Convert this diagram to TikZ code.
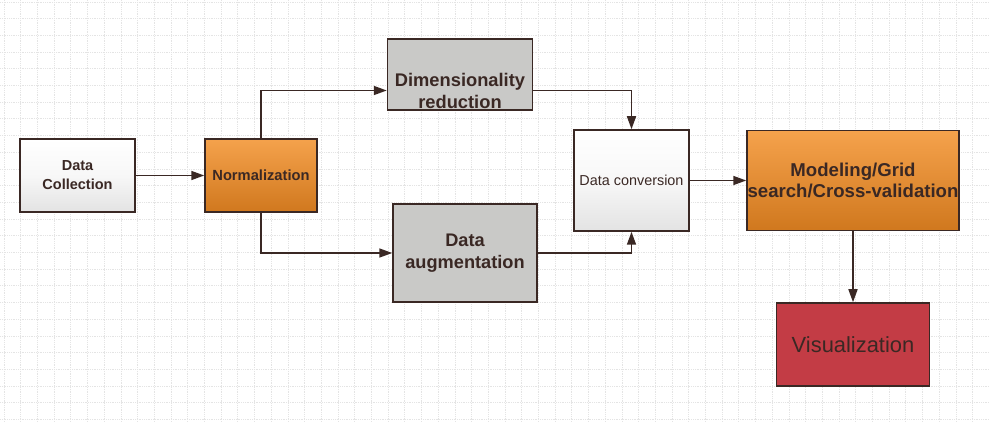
\documentclass[tikz,border=0pt]{standalone}
\usepackage{fontspec}
\setmainfont{Liberation Sans}
\usetikzlibrary{arrows.meta}

\definecolor{inkbrown}{HTML}{3A2824}
\definecolor{boxgray}{HTML}{C9C9C7}
\definecolor{orangetop}{HTML}{F5A24C}
\definecolor{orangebot}{HTML}{D0781E}
\definecolor{vispink}{HTML}{C33C45}
\definecolor{gridgray}{HTML}{E4E4E4}

\begin{document}
\begin{tikzpicture}[x=1pt,y=-1pt,
		gridline/.style={draw=gridgray,line width=0.8pt,densely dotted},
		stage/.style={draw=inkbrown,line width=1.5pt,inner sep=0pt,text=inkbrown,align=center},
		lightbox/.style={stage,top color=white,bottom color=gray!22,middle color=white!94!gray},
		graybox/.style={stage,fill=boxgray},
		orangebox/.style={stage,top color=orangetop,bottom color=orangebot},
		flow/.style={draw=inkbrown,line width=1.6pt,-{Triangle[length=13pt,width=9pt]}}]
	\useasboundingbox (0,0) rectangle (989,422);
	\fill[white] (0,0) rectangle (989,422);
	% background grid
	\foreach \i in {0,...,59}
		\draw[gridline] ({4+16.7*\i},0) -- ({4+16.7*\i},422);
	\foreach \j in {0,...,25}
		\draw[gridline] (0,{2+16.7*\j}) -- (989,{2+16.7*\j});

	% stages
	\node[lightbox,minimum width=115pt,minimum height=73pt,font=\bfseries\fontsize{14.5}{19}\selectfont]
		(collect) at (77.5,175.5) {Data\\Collection};
	\node[orangebox,minimum width=112pt,minimum height=73pt,font=\bfseries\fontsize{14.7}{18}\selectfont]
		(norm) at (261,175.5) {Normalization};
	\node[graybox,minimum width=145pt,minimum height=71pt] (dimred) at (460,74.5) {};
	\node[text=inkbrown,align=center,inner sep=0pt,font=\bfseries\fontsize{18.3}{22}\selectfont]
		(dimtext) at (460,90.5) {Dimensionality\\reduction};
	\node[graybox,minimum width=144pt,minimum height=98pt,font=\bfseries\fontsize{18.2}{22}\selectfont]
		(augment) at (465,253) {Data\\augmentation};
	\node[lightbox,minimum width=115pt,minimum height=101pt,font=\fontsize{14.4}{18}\selectfont]
		(convert) at (631.5,180.5) {Data conversion};
	\node[orangebox,minimum width=212pt,minimum height=100pt,font=\bfseries\fontsize{18.6}{21}\selectfont]
		(model) at (853,180.5) {Modeling/Grid\\search/Cross-validation};
	\node[stage,fill=vispink,minimum width=153pt,minimum height=83pt,font=\fontsize{21.9}{26}\selectfont]
		(vis) at (853,344.5) {Visualization};

	% connectors
	\draw[flow] (collect) -- (norm);
	\draw[flow] (norm.north) |- (dimred.west |- dimtext);
	\draw[flow] (norm.south) |- (augment.west);
	\draw[flow] (dimred.east |- dimtext) -| (convert.north);
	\draw[flow] (augment.east) -| (convert.south);
	\draw[flow] (convert) -- (model);
	\draw[flow] (model) -- (vis);
\end{tikzpicture}
\end{document}
